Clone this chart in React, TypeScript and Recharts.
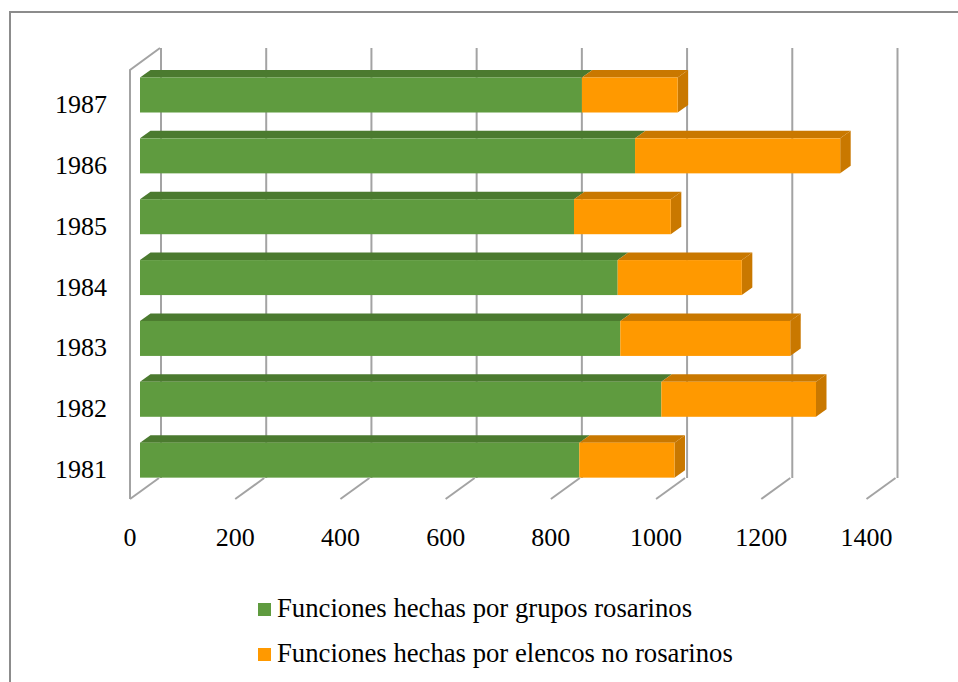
import { Bar, BarChart, CartesianGrid, XAxis, YAxis } from "recharts"

// values
const years = ["1987", "1986", "1985", "1984", "1983", "1982", "1981"]
const grupos = [840, 941, 825, 908, 913, 991, 835]
const elencos = [182, 390, 184, 236, 323, 294, 181]
const xTicks = [0, 200, 400, 600, 800, 1000, 1200, 1400]
const seriesNames = [
  "Funciones hechas por grupos rosarinos",
  "Funciones hechas por elencos no rosarinos",
]

const data = years.map((year, i) => ({
  year,
  grupos: grupos[i],
  elencos: elencos[i],
}))

const W = 958
const H = 682
const PLOT_TOP = 64.5
const PLOT_BOTTOM = 490.5
const PLOT_LEFT = 140
const PLOT_RIGHT = 876.5
const Y_AXIS_W = 120
const X_AXIS_H = 60

// fake 3D depth
const BAR_DX = 10.5
const BAR_DY = 7.5
const FLOOR_FRONT = PLOT_BOTTOM + 8.5
const FLOOR_BACK = PLOT_BOTTOM - 12.5
const WALL_TOP_FRONT = PLOT_TOP + 5.5
const WALL_TOP_BACK = PLOT_TOP - 16.5

const FONT = '"Liberation Serif", "Times New Roman", Tinos, "DejaVu Serif", serif'
const textStyle = { fontFamily: FONT, fontSize: 26 }
const legendStyle = { fontFamily: FONT, fontSize: 26.7 }
const GREEN = "#5f9b3f"
const GREEN_DARK = "#4b7a2f"
const ORANGE = "#ff9900"
const ORANGE_DARK = "#c97800"
const GRID = "#a3a3a3"

function box(props: any, front: string, dark: string, side: boolean) {
  const { x, y, width, height } = props
  if (!width || width <= 0) return <g />
  const x2 = x + width
  return (
    <g>
      <polygon
        points={`${x},${y} ${x + BAR_DX},${y - BAR_DY} ${x2 + BAR_DX},${y - BAR_DY} ${x2},${y}`}
        fill={dark}
      />
      {side && (
        <polygon
          points={`${x2},${y} ${x2 + BAR_DX},${y - BAR_DY} ${x2 + BAR_DX},${y + height - BAR_DY} ${x2},${y + height}`}
          fill={dark}
        />
      )}
      <rect x={x} y={y} width={width} height={height} fill={front} />
    </g>
  )
}

function XTick({ x, payload }: any) {
  const fx = x - 10
  return (
    <g>
      <line x1={fx} y1={FLOOR_FRONT} x2={fx + 29} y2={FLOOR_BACK} stroke={GRID} strokeWidth={2} />
      {payload.value === 0 && (
        <polyline
          points={`${fx},${FLOOR_FRONT} ${fx},${WALL_TOP_FRONT} ${fx + 30},${WALL_TOP_BACK}`}
          fill="none"
          stroke={GRID}
          strokeWidth={2}
        />
      )}
      <text x={fx} y={PLOT_BOTTOM + 55.5} textAnchor="middle" style={textStyle} fill="#000">
        {payload.value}
      </text>
    </g>
  )
}

function YTick({ y, payload }: any) {
  return (
    <text x={81} y={y + 9} dy="0.35em" textAnchor="middle" style={textStyle} fill="#000">
      {payload.value}
    </text>
  )
}

export default function App() {
  return (
    <div
      style={{
        position: "fixed",
        left: 0,
        top: 0,
        width: W,
        height: H,
        overflow: "hidden",
        background: "#fff",
      }}
    >
      <div
        style={{
          position: "absolute",
          left: 9,
          top: 11,
          width: 1100,
          height: 1100,
          border: "2px solid #8c8c8c",
        }}
      />
      <div style={{ position: "absolute", left: 0, top: 0 }}>
        <BarChart
          width={W}
          height={H}
          data={data}
          layout="vertical"
          margin={{
            top: PLOT_TOP,
            right: W - PLOT_RIGHT,
            left: PLOT_LEFT - Y_AXIS_W,
            bottom: H - PLOT_BOTTOM - X_AXIS_H,
          }}
        >
          <CartesianGrid
            horizontal={false}
            vertical={(p: any) => (
              <line
                key={`g-${p.index ?? p.x1}`}
                x1={p.x1 + 21}
                x2={p.x1 + 21}
                y1={WALL_TOP_BACK}
                y2={FLOOR_BACK}
                stroke={GRID}
                strokeWidth={2}
              />
            )}
          />
          <XAxis
            type="number"
            domain={[0, 1400]}
            ticks={xTicks}
            interval={0}
            axisLine={false}
            tickLine={false}
            tickSize={0}
            height={X_AXIS_H}
            tick={<XTick />}
          />
          <YAxis
            type="category"
            dataKey="year"
            axisLine={false}
            tickLine={false}
            tickSize={0}
            width={Y_AXIS_W}
            tick={<YTick />}
          />
          <Bar
            dataKey="grupos"
            stackId="f"
            barSize={35}
            fill={GREEN}
            isAnimationActive={false}
            shape={(p: any) => box(p, GREEN, GREEN_DARK, false)}
          />
          <Bar
            dataKey="elencos"
            stackId="f"
            barSize={35}
            fill={ORANGE}
            isAnimationActive={false}
            shape={(p: any) => box(p, ORANGE, ORANGE_DARK, true)}
          />
        </BarChart>
      </div>
      <svg
        width={W}
        height={H}
        style={{ position: "absolute", left: 0, top: 0, pointerEvents: "none" }}
      >
        {seriesNames.map((name, i) => {
          const base = 617 + i * 45
          return (
            <g key={name}>
              <rect x={258} y={base - 14} width={13} height={13} fill={i === 0 ? GREEN : ORANGE} />
              <text x={277} y={base} style={legendStyle} fill="#000">
                {name}
              </text>
            </g>
          )
        })}
      </svg>
    </div>
  )
}
